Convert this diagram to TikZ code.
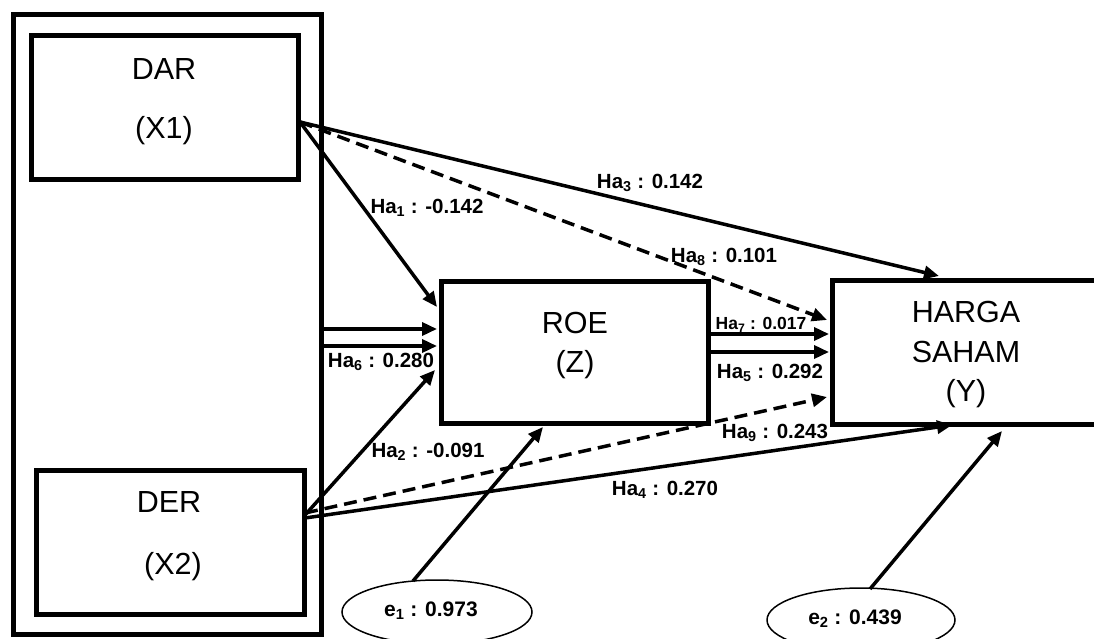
\documentclass[tikz,border=0pt]{standalone}
\usepackage{fontspec}
\setmainfont{Liberation Sans}
\usetikzlibrary{arrows.meta,shapes.geometric}
\tikzset{
  boxline/.style={draw, line width=5pt, inner sep=0pt, outer sep=0pt},
  big/.style={font=\fontsize{30.5}{36}\selectfont, inner sep=0pt},
  lab/.style={font=\fontsize{20.5}{24}\selectfont\bfseries, inner sep=0pt},
  smalllab/.style={font=\fontsize{17.5}{21}\selectfont\bfseries, inner sep=0pt},
  elab/.style={font=\fontsize{21}{25}\selectfont\bfseries, inner sep=0pt},
  conn/.style={line width=3.5pt, -{Triangle[length=15pt,width=13pt]}},
  dconn/.style={conn, dash pattern=on 13pt off 7pt},
  errnode/.style={draw, line width=1.5pt, ellipse, inner sep=0pt, outer sep=0pt}
}
\begin{document}
\begin{tikzpicture}[x=1pt,y=-1pt]
\useasboundingbox (0,0) rectangle (1094,639);
\fill[white] (0,0) rectangle (1094,639);

% boxes
\node[boxline, minimum width=308pt, minimum height=619pt] (outer) at (167,324.5) {};
\node[boxline, minimum width=267pt, minimum height=144pt] (dar) at (164.5,108) {};
\node[boxline, minimum width=268pt, minimum height=144pt] (der) at (170,542) {};
\node[boxline, minimum width=267pt, minimum height=142pt] (roe) at (574.5,352) {};
\node[boxline, minimum width=268pt, minimum height=144pt] (harga) at (966,352) {};
\node[errnode, minimum width=190pt, minimum height=64pt] (e1) at (437,612) {};
\node[errnode, minimum width=188pt, minimum height=64pt] (e2) at (861,620) {};

% box texts
\node[big] (darT) at (164,69) {DAR};
\node[big] (darX) at (164,131) {(X1)};
\node[big] (derT) at (169,502) {DER};
\node[big] (derX) at (173,567) {(X2)};
\node[big] (roeT) at (575,323) {ROE};
\node[big] (roeZ) at (575,365) {(Z)};
\node[big] (hargaT) at (966,312) {HARGA};
\node[big] (sahamT) at (966,352) {SAHAM};
\node[big] (hargaY) at (966,394) {(Y)};

% connector end points
\coordinate (darOut) at (300,122);
\coordinate (roeIn1) at (437,307);
\coordinate (hargaTop) at (939,276);
\coordinate (hargaIn8) at (827,320);
\coordinate (outA) at (322,329);
\coordinate (outB) at (322,346);
\coordinate (roeInA) at (437,329);
\coordinate (roeInB) at (437,346);
\coordinate (derOut) at (305,515);
\coordinate (derOutD) at (305,513);
\coordinate (derOutS) at (305,518);
\coordinate (roeIn2) at (435,370);
\coordinate (hargaIn9) at (827,397);
\coordinate (hargaBot) at (952,425);
\coordinate (roeOutA) at (708,334);
\coordinate (roeOutB) at (708,352);
\coordinate (hargaInA) at (829,334);
\coordinate (hargaInB) at (829,352);
\coordinate (e1Top) at (413,581);
\coordinate (roeBot) at (543,427);
\coordinate (e2Top) at (870,589);
\coordinate (hargaBot2) at (1002,431);

% connectors
\draw[conn] (darOut) -- (roeIn1);
\draw[conn] (darOut) -- (hargaTop);
\draw[dconn] (darOut) -- (hargaIn8);
\draw[conn] (outA) -- (roeInA);
\draw[conn] (outB) -- (roeInB);
\draw[conn] (derOut) -- (roeIn2);
\draw[dconn] (derOutD) -- (hargaIn9);
\draw[conn] (derOutS) -- (hargaBot);
\draw[conn] (roeOutA) -- (hargaInA);
\draw[conn] (roeOutB) -- (hargaInB);
\draw[conn] (e1Top) -- (roeBot);
\draw[conn] (e2Top) -- (hargaBot2);

% labels
\node[lab] (l1) at (427,208) {Ha\textsubscript{1} : -0.142};
\node[lab] (l3) at (650,183) {Ha\textsubscript{3} : 0.142};
\node[lab] (l8) at (724,257) {Ha\textsubscript{8} : 0.101};
\node[lab] (l6) at (381,362) {Ha\textsubscript{6} : 0.280};
\node[smalllab] (l7) at (761,325) {Ha\textsubscript{7} : 0.017};
\node[lab] (l5) at (770,373) {Ha\textsubscript{5} : 0.292};
\node[lab] (l9) at (775,433) {Ha\textsubscript{9} : 0.243};
\node[lab] (l2) at (428,452) {Ha\textsubscript{2} : -0.091};
\node[lab] (l4) at (665,490) {Ha\textsubscript{4} : 0.270};
\node[elab] (e1T) at (431,611) {e\textsubscript{1} : 0.973};
\node[elab] (e2T) at (855,619) {e\textsubscript{2} : 0.439};
\end{tikzpicture}
\end{document}
